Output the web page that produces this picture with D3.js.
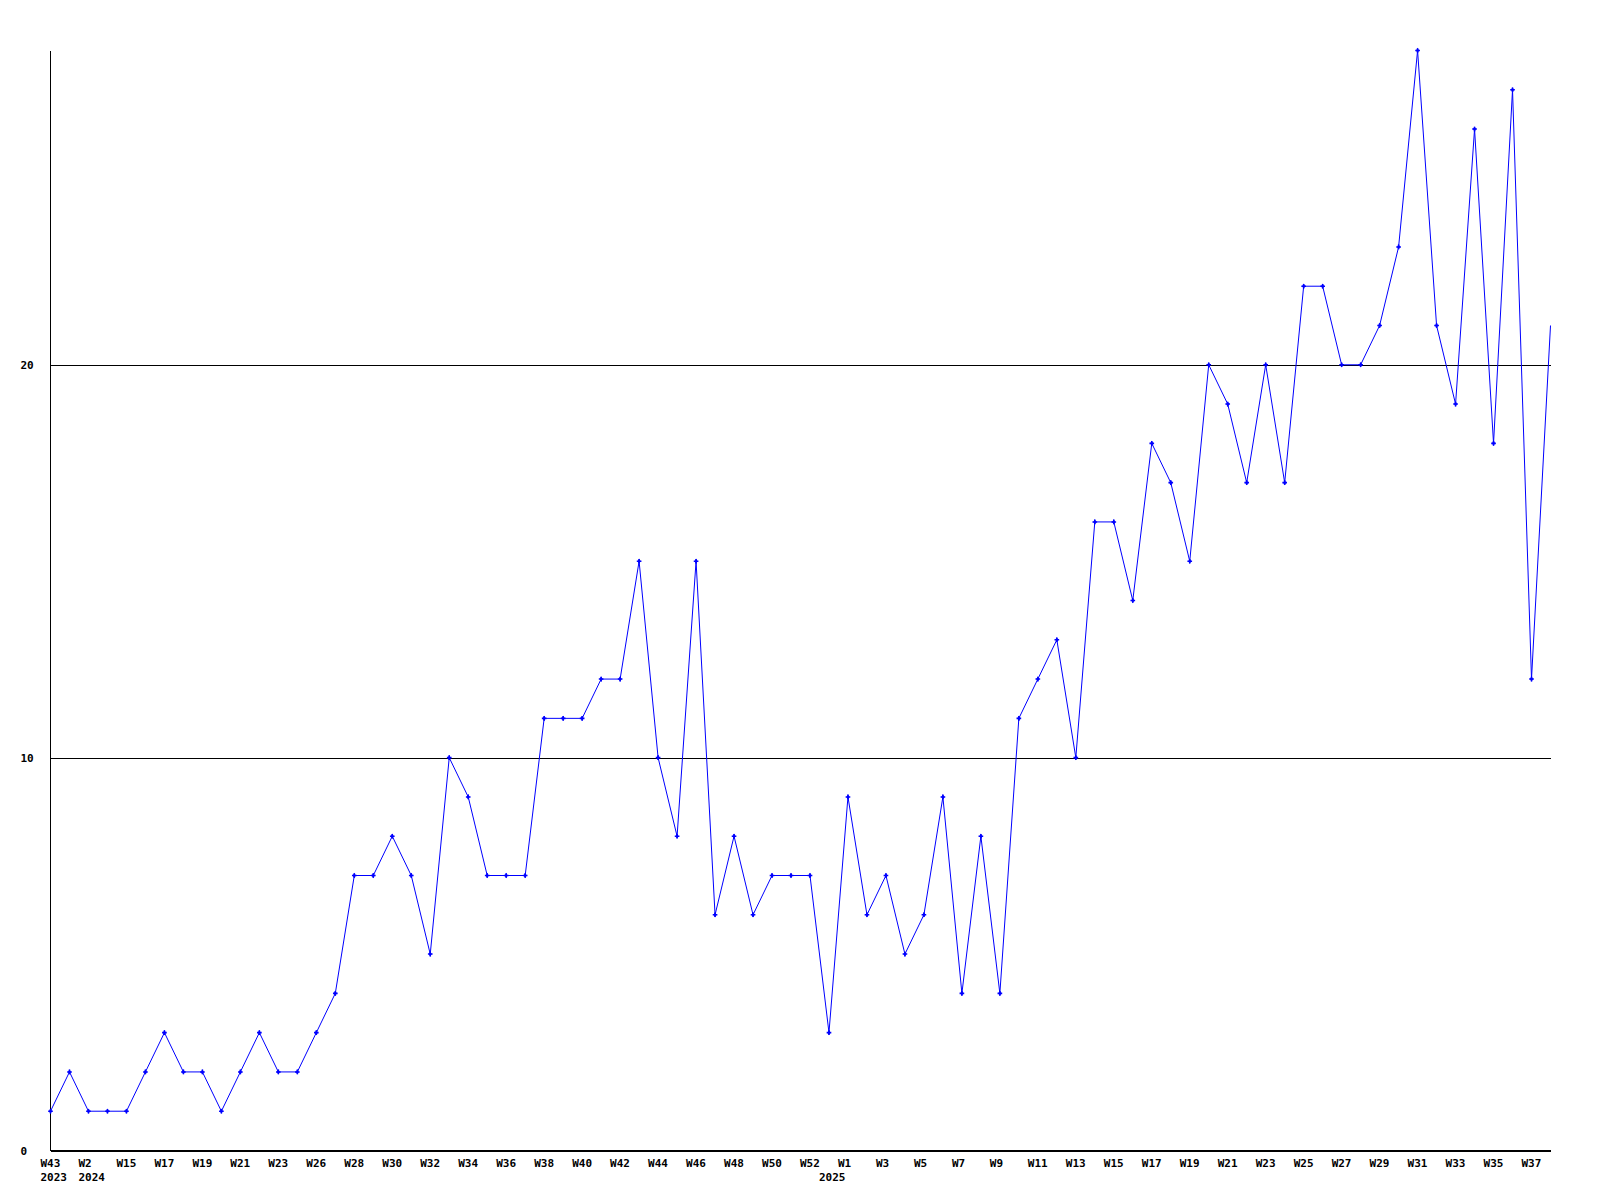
<!DOCTYPE html>
<html>
<head>
<meta charset="UTF-8">
<script src="https://d3js.org/d3.v7.min.js"></script>
<style>
  body { margin: 0; background: #fff; }
  svg text { font-family: "DejaVu Sans Mono", "Liberation Mono", monospace; font-weight: bold; font-size: 11px; fill: #000; }
</style>
</head>
<body>
<svg width="1600" height="1200"></svg>
<script>
// week labels, one per point (only every second one is printed)
const weeks = ["W43","W44","W2","W14","W15","W16","W17","W18","W19","W20",
  "W21","W22","W23","W25","W26","W27","W28","W29","W30","W31",
  "W32","W33","W34","W35","W36","W37","W38","W39","W40","W41",
  "W42","W43","W44","W45","W46","W47","W48","W49","W50","W51",
  "W52","W0","W1","W2","W3","W4","W5","W6","W7","W8",
  "W9","W10","W11","W12","W13","W14","W15","W16","W17","W18",
  "W19","W20","W21","W22","W23","W24","W25","W26","W27","W28",
  "W29","W30","W31","W32","W33","W34","W35","W36","W37","W38"];
const firstYear = 2023;

const values = [1,2,1,1,1,2,3,2,2,1,
  2,3,2,2,3,4,7,7,8,7,
  5,10,9,7,7,7,11,11,11,12,
  12,15,10,8,15,6,8,6,7,7,
  7,3,9,6,7,5,6,9,4,8,
  4,11,12,13,10,16,16,14,18,17,
  15,20,19,17,20,17,22,22,20,20,
  21,23,28,21,19,26,18,27,12,21];

const yTicks = [0, 10, 20];
const yMax = 28;

// year of every point: new year when week number goes down
const years = [];
let yr = firstYear;
weeks.forEach((w, i) => {
    if (i > 0 && +w.slice(1) < +weeks[i - 1].slice(1)) yr++;
    years.push(yr);
});
const keys = weeks.map((w, i) => years[i] + "-" + w);

const svg = d3.select("svg");
const plotL = 50.5, plotR = 1550.5, plotT = 50.5, plotB = 1150.5;

const x = d3.scalePoint().domain(keys).range([plotL, plotR]);
const y = d3.scaleLinear().domain([0, yMax]).range([plotB, plotT]);

// gridlines + y labels
const yAxis = svg.append("g")
    .attr("transform", "translate(" + plotL + ",0)")
    .call(d3.axisLeft(y).tickValues(yTicks).tickSize(-(plotR - plotL)).tickFormat(d => "" + d));
yAxis.select(".domain").remove();
yAxis.selectAll("line").attr("stroke", "#000").attr("shape-rendering", "crispEdges");
yAxis.selectAll("text").attr("x", -30).attr("text-anchor", "start").attr("dy", "0.35em");

// axis lines
svg.append("line").attr("x1", plotL).attr("x2", plotL).attr("y1", plotT).attr("y2", plotB)
    .attr("stroke", "#000").attr("shape-rendering", "crispEdges");
svg.append("line").attr("x1", plotL).attr("x2", plotR).attr("y1", plotB).attr("y2", plotB)
    .attr("stroke", "#000").attr("shape-rendering", "crispEdges");

// x labels
const xl = svg.append("g");
keys.forEach((k, i) => {
    if (i % 2 === 0) {
        xl.append("text").attr("x", x(k) - 10).attr("y", 1167).text(weeks[i]);
    }
    if (i === 0 || years[i] !== years[i - 1]) {
        xl.append("text").attr("x", x(k) - 10).attr("y", 1181).text("" + years[i]);
    }
});

// line
const line = d3.line().x((d, i) => x(keys[i])).y(d => y(d));
svg.append("path").datum(values)
    .attr("d", line)
    .attr("fill", "none")
    .attr("stroke", "#0000ff")
    .attr("stroke-width", 1);

// markers (last point has none)
const marks = svg.append("g").attr("fill", "#0000ff");
values.slice(0, values.length - 1).forEach((v, i) => {
    const t = "translate(" + x(keys[i]) + "," + y(v) + ")";
    marks.append("path").attr("transform", t).attr("d", d3.symbol(d3.symbolCross, 12)());
    marks.append("path").attr("transform", t).attr("d", d3.symbol(d3.symbolDiamond, 8)());
});
</script>
</body>
</html>
